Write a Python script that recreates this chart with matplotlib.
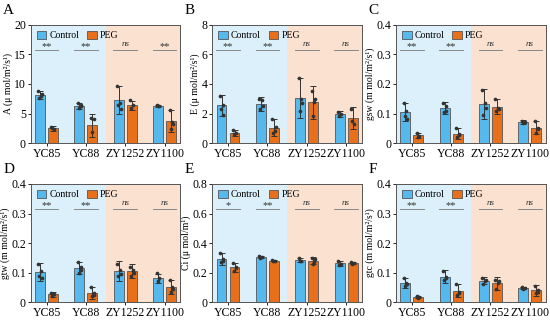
import numpy as np
import matplotlib
matplotlib.use("Agg")
import matplotlib.pyplot as plt

plt.rcParams['font.family'] = ['Liberation Serif', 'DejaVu Serif']

groups = ["YC85", "YC88", "ZY1252", "ZY1100"]
letters = ["A", "B", "C", "D", "E", "F"]
ylabels = ["A (μ mol/m²/s¹)", "E (μ mol/m²/s¹)", "gsw (m mol/m²/s¹)",
           "gtw (m mol/m²/s¹)", "Ci (μ mol/m¹)", "gtc (m mol/m²/s¹)"]
ylims = [20, 8, 0.4, 0.4, 0.8, 0.4]

# bar means
ctrl_mean = [[8.1, 6.3, 7.3, 6.3],
             [2.55, 2.65, 3.05, 1.95],
             [0.105, 0.118, 0.133, 0.071],
             [0.102, 0.115, 0.106, 0.081],
             [0.290, 0.305, 0.285, 0.262],
             [0.065, 0.085, 0.072, 0.047]]
peg_mean = [[2.5, 3.0, 6.4, 3.7],
            [0.7, 1.05, 2.75, 1.7],
            [0.026, 0.031, 0.123, 0.052],
            [0.026, 0.031, 0.105, 0.051],
            [0.236, 0.280, 0.280, 0.265],
            [0.018, 0.038, 0.064, 0.040]]
# error bars (sd)
ctrl_err = [[0.7, 0.5, 2.4, 0.2],
            [0.7, 0.5, 1.35, 0.2],
            [0.03, 0.02, 0.05, 0.006],
            [0.03, 0.02, 0.033, 0.015],
            [0.04, 0.008, 0.015, 0.015],
            [0.018, 0.022, 0.012, 0.003]]
peg_err = [[0.4, 1.9, 0.8, 1.9],
           [0.2, 0.6, 1.1, 0.75],
           [0.008, 0.019, 0.026, 0.023],
           [0.008, 0.019, 0.023, 0.023],
           [0.03, 0.005, 0.025, 0.008],
           [0.004, 0.022, 0.022, 0.018]]
# individual replicates
ctrl_pts = [
    [[8.8, 8.0, 7.6, 8.3], [6.7, 6.3, 6.0, 6.5], [9.7, 6.8, 6.5, 5.8], [6.4, 6.3, 6.2]],
    [[3.2, 2.6, 2.3, 1.9], [3.0, 2.9, 2.3, 2.5], [4.4, 3.0, 2.2, 2.7], [2.1, 1.95, 1.85]],
    [[0.135, 0.11, 0.09, 0.08], [0.135, 0.125, 0.105, 0.11], [0.18, 0.135, 0.095, 0.12], [0.075, 0.07, 0.068]],
    [[0.13, 0.105, 0.09, 0.08], [0.135, 0.12, 0.10, 0.11], [0.13, 0.11, 0.09, 0.095], [0.097, 0.08, 0.072]],
    [[0.33, 0.29, 0.27, 0.28], [0.31, 0.305, 0.30], [0.30, 0.28, 0.275], [0.28, 0.26, 0.25]],
    [[0.08, 0.065, 0.055, 0.06], [0.105, 0.08, 0.075, 0.085], [0.082, 0.07, 0.06, 0.075], [0.05, 0.047, 0.045]],
]
peg_pts = [
    [[2.8, 2.3, 2.5], [4.3, 4.0, 1.8], [7.3, 6.4, 6.0], [5.6, 3.5, 2.4, 3.3]],
    [[0.85, 0.65, 0.6], [1.6, 0.8, 0.7, 1.1], [3.5, 2.8, 1.8, 3.0], [2.3, 1.3, 1.5]],
    [[0.033, 0.025, 0.022], [0.05, 0.028, 0.02, 0.03], [0.148, 0.12, 0.11, 0.115], [0.075, 0.05, 0.035, 0.048]],
    [[0.032, 0.026, 0.022], [0.05, 0.03, 0.02, 0.025], [0.12, 0.11, 0.09, 0.10], [0.075, 0.05, 0.035, 0.045]],
    [[0.265, 0.23, 0.21, 0.24], [0.283, 0.278, 0.28], [0.30, 0.27, 0.26, 0.29], [0.27, 0.265, 0.26]],
    [[0.02, 0.017, 0.015], [0.06, 0.035, 0.025, 0.03], [0.075, 0.065, 0.045, 0.07], [0.055, 0.04, 0.03, 0.035]],
]
sig = [["**", "**", "ns", "**"],
       ["**", "**", "ns", "ns"],
       ["**", "**", "ns", "ns"],
       ["**", "**", "ns", "ns"],
       ["*", "**", "ns", "ns"],
       ["**", "**", "ns", "ns"]]

c_ctrl = "#55b9ee"
c_peg = "#e8701a"
bg_left = "#dcf0fb"
bg_right = "#fbe2d0"
edge = "#555555"

fig = plt.figure(figsize=(5.5, 3.2), dpi=100)
lefts = [0.056, 0.386, 0.72]
bottoms = [0.553, 0.056]
w, h = 0.272, 0.369

jit = [-0.04, 0.03, -0.015, 0.045]
x = np.arange(len(groups))
bw = 0.25
off = 0.165

for i in range(6):
    ax = fig.add_axes([lefts[i % 3], bottoms[i // 3], w, h])
    top = ylims[i]
    ax.axvspan(-0.4, 1.5, color=bg_left, zorder=0, lw=0)
    ax.axvspan(1.5, 3.4, color=bg_right, zorder=0, lw=0)
    ax.bar(x - off, ctrl_mean[i], bw, color=c_ctrl, edgecolor=edge, lw=0.6,
           label="Control", zorder=2)
    ax.bar(x + off, peg_mean[i], bw, color=c_peg, edgecolor=edge, lw=0.6,
           label="PEG", zorder=2)
    ax.errorbar(x - off, ctrl_mean[i], yerr=ctrl_err[i], fmt="none", ecolor="#333333",
                elinewidth=0.7, capsize=2, capthick=0.7, zorder=3)
    ax.errorbar(x + off, peg_mean[i], yerr=peg_err[i], fmt="none", ecolor="#333333",
                elinewidth=0.7, capsize=2, capthick=0.7, zorder=3)
    for g in range(4):
        for pts, sgn in ((ctrl_pts[i][g], -1), (peg_pts[i][g], 1)):
            xs = [g + sgn * off + jit[k] for k in range(len(pts))]
            ax.scatter(xs, pts, s=7, color="#333333", zorder=4, lw=0)
        ly = top * 0.79
        ax.plot([g - 0.3, g + 0.3], [ly, ly], color="#888888", lw=0.7, zorder=3)
        s = sig[i][g]
        if s == "ns":
            ax.text(g, ly + top * 0.015, s, ha="center", va="bottom", fontsize=6.5,
                    style="italic", color="#333333")
        else:
            ax.text(g, ly - top * 0.01, s, ha="center", va="bottom", fontsize=7.5,
                    color="#333333")
    ax.set_xlim(-0.4, 3.4)
    ax.set_ylim(0, top)
    ax.set_yticks(np.linspace(0, top, 5))
    if top >= 1:
        ax.set_yticklabels([f"{v:g}" for v in np.linspace(0, top, 5)])
    else:
        ax.set_yticklabels(["0"] + [f"{v:.1f}" for v in np.linspace(0, top, 5)[1:]])
    ax.set_xticks(x)
    ax.set_xticklabels(groups)
    ax.tick_params(axis="both", labelsize=8.5, length=2.5, width=0.6, pad=1)
    for sp in ax.spines.values():
        sp.set_color(edge)
        sp.set_linewidth(0.7)
    ax.set_ylabel(ylabels[i], fontsize=7, labelpad=1)
    ax.legend(loc="upper left", fontsize=7, frameon=False, handlelength=1.0,
              handleheight=0.9, handletextpad=0.3, columnspacing=0.8, ncol=2,
              borderaxespad=0.3, borderpad=0.3)
    fig.text(lefts[i % 3] - 0.05, bottoms[i // 3] + h + 0.025, letters[i],
             fontsize=11, va="bottom", ha="left")

fig.savefig("out.png", dpi=100)
